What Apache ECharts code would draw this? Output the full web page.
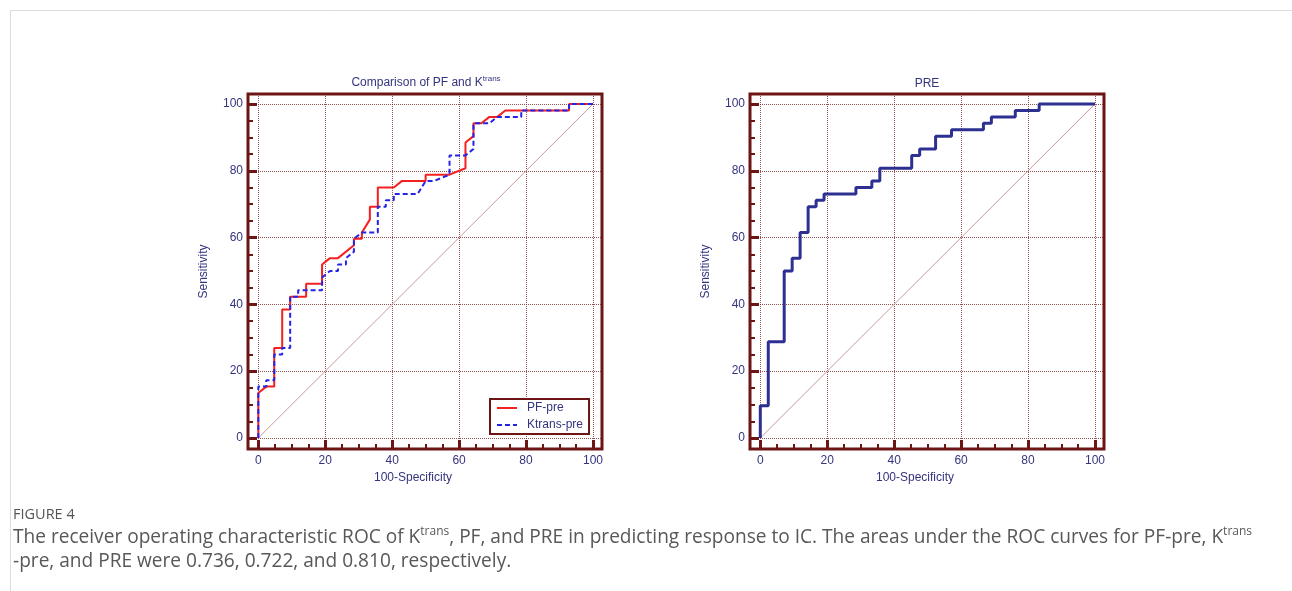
<!DOCTYPE html>
<html>
<head>
<meta charset="utf-8">
<script src="https://cdn.jsdelivr.net/npm/echarts@6.0.0/dist/echarts.min.js"></script>
<style>
  html, body { margin: 0; padding: 0; background: #fff; }
  #chart { width: 1292px; height: 591px; }
</style>
</head>
<body>
<div id="chart"></div>
<script>
// ROC points (100-specificity, sensitivity)
const pfX = [0, 0, 2.38, 4.76, 4.76, 7.14, 7.14, 9.52, 9.52, 14.29, 14.29, 19.05, 19.05, 21.43, 23.81, 28.57, 28.57, 30.95, 30.95, 33.33, 33.33, 35.71, 35.71, 40.48, 42.86, 50, 50, 57.14, 61.9, 61.9, 64.29, 64.29, 66.67, 69.05, 71.43, 73.81, 92.86, 92.86, 100];
const pfY = [0, 13.46, 15.38, 15.38, 26.92, 26.92, 38.46, 38.46, 42.31, 42.31, 46.15, 46.15, 51.92, 53.85, 53.85, 57.69, 59.62, 59.62, 61.54, 65.38, 69.23, 69.23, 75, 75, 76.92, 76.92, 78.85, 78.85, 80.77, 88.46, 90.38, 94.23, 94.23, 96.15, 96.15, 98.08, 98.08, 100, 100];

const ktX = [0, 0, 2.38, 2.38, 4.76, 4.76, 7.14, 7.14, 9.52, 9.52, 11.9, 11.9, 19.05, 19.05, 21.43, 23.81, 23.81, 26.19, 26.19, 28.57, 28.57, 30.95, 35.71, 35.71, 38.1, 38.1, 40.48, 40.48, 47.62, 50, 52.38, 57.14, 57.14, 61.9, 64.29, 64.29, 69.05, 71.43, 78.57, 78.57, 92.86, 92.86, 100];
const ktY = [0, 15.38, 15.38, 17.31, 17.31, 25, 25, 26.92, 26.92, 42.31, 42.31, 44.23, 44.23, 48.08, 50, 50, 51.92, 51.92, 53.85, 55.77, 59.62, 61.54, 61.54, 69.23, 69.23, 71.15, 71.15, 73.08, 73.08, 76.92, 76.92, 78.85, 84.62, 84.62, 86.54, 94.23, 94.23, 96.15, 96.15, 98.08, 98.08, 100, 100];

const preX = [0, 0, 2.38, 2.38, 7.14, 7.14, 9.52, 9.52, 11.9, 11.9, 14.29, 14.29, 16.67, 16.67, 19.05, 19.05, 28.57, 28.57, 33.33, 33.33, 35.71, 35.71, 45.24, 45.24, 47.62, 47.62, 52.38, 52.38, 57.14, 57.14, 66.67, 66.67, 69.05, 69.05, 76.19, 76.19, 83.33, 83.33, 100];
const preY = [0, 9.62, 9.62, 28.85, 28.85, 50, 50, 53.85, 53.85, 61.54, 61.54, 69.23, 69.23, 71.15, 71.15, 73.08, 73.08, 75, 75, 76.92, 76.92, 80.77, 80.77, 84.62, 84.62, 86.54, 86.54, 90.38, 90.38, 92.31, 92.31, 94.23, 94.23, 96.15, 96.15, 98.08, 98.08, 100, 100];

const diagX = [0, 100];
const diagY = [0, 100];

const majorTicks = [0, 20, 40, 60, 80, 100];
const minorTicks = [0, 5, 10, 15, 20, 25, 30, 35, 40, 45, 50, 55, 60, 65, 70, 75, 80, 85, 90, 95, 100];

const zip = (xs, ys) => xs.map((x, i) => [x, ys[i]]);

const frameColor = '#6d1515';
const navy = '#34347f';
const font = 'Liberation Sans';
const capFont = 'Open Sans';
const gridLine = { show: true, lineStyle: { color: 'rgba(120,40,40,0.8)', type: 'dotted', width: 1 } };

// main axis: labels, long ticks, grid lines
const mainAxis = (dim, gridIndex) => ({
    type: 'value',
    gridIndex: gridIndex,
    position: dim === 'x' ? 'bottom' : 'left',
    min: dim === 'x' ? -3.08 : -3.3,
    max: dim === 'x' ? 102.7 : 103,
    name: dim === 'x' ? '100-Specificity' : 'Sensitivity',
    nameLocation: 'middle',
    nameGap: dim === 'x' ? 23 : 38,
    nameTextStyle: {
        color: navy, fontSize: 12, fontFamily: font,
        padding: dim === 'x' ? [0, 24, 0, 0] : 0
    },
    axisLine: { show: false, onZero: false },
    axisTick: { show: true, inside: true, length: 9, customValues: majorTicks, lineStyle: { color: frameColor, width: 3 } },
    axisLabel: { customValues: majorTicks, margin: dim === 'x' ? 6 : 5, color: navy, fontSize: 12, fontFamily: font },
    splitLine: gridLine
});
// second axis only for the short ticks
const minorAxis = (dim, gridIndex) => ({
    type: 'value',
    gridIndex: gridIndex,
    position: dim === 'x' ? 'bottom' : 'left',
    min: dim === 'x' ? -3.08 : -3.3,
    max: dim === 'x' ? 102.7 : 103,
    axisLine: { show: false, onZero: false },
    axisTick: { show: true, inside: true, length: 5, customValues: minorTicks, lineStyle: { color: frameColor, width: 2 } },
    axisLabel: { show: false },
    splitLine: { show: false }
});

const chart = echarts.init(document.getElementById('chart'));
chart.setOption({
    animation: false,
    backgroundColor: '#fff',
    title: [
        {
            text: 'Comparison of PF and K{sup|trans}',
            left: 426, top: 75, textAlign: 'center', padding: 0,
            textStyle: {
                color: navy, fontSize: 12, fontWeight: 'normal', fontFamily: font, lineHeight: 16,
                rich: { sup: { fontSize: 8, lineHeight: 9, verticalAlign: 'top', color: navy, fontFamily: font } }
            }
        },
        {
            text: 'PRE', left: 927, top: 78, textAlign: 'center', padding: 0,
            textStyle: { color: navy, fontSize: 12, fontWeight: 'normal', fontFamily: font }
        },
        {
            text: 'FIGURE 4', left: 13, top: 507, padding: 0,
            textStyle: { color: '#555', fontSize: 14.5, fontWeight: 'normal', fontFamily: capFont }
        },
        {
            text: 'The receiver operating characteristic ROC of K{sup|trans}, PF, and PRE in predicting response to IC. The areas under the ROC curves for PF-pre, K{sup|trans}',
            left: 13, top: 526, padding: 0,
            textStyle: {
                color: '#585858', fontSize: 19.1, fontWeight: 'normal', fontFamily: capFont, lineHeight: 24,
                rich: { sup: { fontSize: 12, lineHeight: 13, verticalAlign: 'top', color: '#585858', fontFamily: capFont } }
            }
        },
        {
            text: '-pre, and PRE were 0.736, 0.722, and 0.810, respectively.',
            left: 13, top: 550, padding: 0,
            textStyle: { color: '#585858', fontSize: 19.1, fontWeight: 'normal', fontFamily: capFont, lineHeight: 24 }
        }
    ],
    graphic: [
        { type: 'line', shape: { x1: 10, y1: 10.5, x2: 1292, y2: 10.5 }, style: { stroke: '#dcdcdc', lineWidth: 1 } },
        { type: 'line', shape: { x1: 10.5, y1: 10, x2: 10.5, y2: 591 }, style: { stroke: '#dcdcdc', lineWidth: 1 } }
    ],
    grid: [
        { left: 248, top: 94, width: 354, height: 355, show: true, borderColor: frameColor, borderWidth: 3, backgroundColor: '#fff', containLabel: false, outerBoundsMode: 'none' },
        { left: 750, top: 94, width: 354, height: 355, show: true, borderColor: frameColor, borderWidth: 3, backgroundColor: '#fff', containLabel: false, outerBoundsMode: 'none' }
    ],
    xAxis: [mainAxis('x', 0), minorAxis('x', 0), mainAxis('x', 1), minorAxis('x', 1)],
    yAxis: [mainAxis('y', 0), minorAxis('y', 0), mainAxis('y', 1), minorAxis('y', 1)],
    legend: {
        data: ['PF-pre', 'Ktrans-pre'],
        orient: 'vertical',
        left: 490, top: 399,
        padding: [3, 6, 3, 6],
        itemWidth: 20, itemHeight: 12, itemGap: 5,
        borderColor: frameColor, borderWidth: 2, borderRadius: 0,
        backgroundColor: '#fff',
        itemStyle: { color: 'rgba(0,0,0,0)', borderColor: 'rgba(0,0,0,0)', borderWidth: 0, opacity: 0 },
        textStyle: { color: navy, fontSize: 12, fontFamily: font, padding: [0, 0, 0, 5] }
    },
    series: [
        {
            name: 'diag1', type: 'line', xAxisIndex: 0, yAxisIndex: 0, symbol: 'none', silent: true,
            data: zip(diagX, diagY), lineStyle: { color: '#c89a9a', width: 1 }
        },
        {
            name: 'PF-pre', type: 'line', xAxisIndex: 0, yAxisIndex: 0, symbol: 'none',
            data: zip(pfX, pfY), lineStyle: { color: '#f42020', width: 2 }, itemStyle: { color: '#f42020' }
        },
        {
            name: 'Ktrans-pre', type: 'line', xAxisIndex: 0, yAxisIndex: 0, symbol: 'none',
            data: zip(ktX, ktY), lineStyle: { color: '#2424e6', width: 2, type: [5, 3] }, itemStyle: { color: '#2424e6' }
        },
        {
            name: 'diag2', type: 'line', xAxisIndex: 2, yAxisIndex: 2, symbol: 'none', silent: true,
            data: zip(diagX, diagY), lineStyle: { color: '#c89a9a', width: 1 }
        },
        {
            name: 'PRE', type: 'line', xAxisIndex: 2, yAxisIndex: 2, symbol: 'none',
            data: zip(preX, preY), lineStyle: { color: '#2d3091', width: 3 }, itemStyle: { color: '#2d3091' }
        }
    ]
});
</script>
</body>
</html>
